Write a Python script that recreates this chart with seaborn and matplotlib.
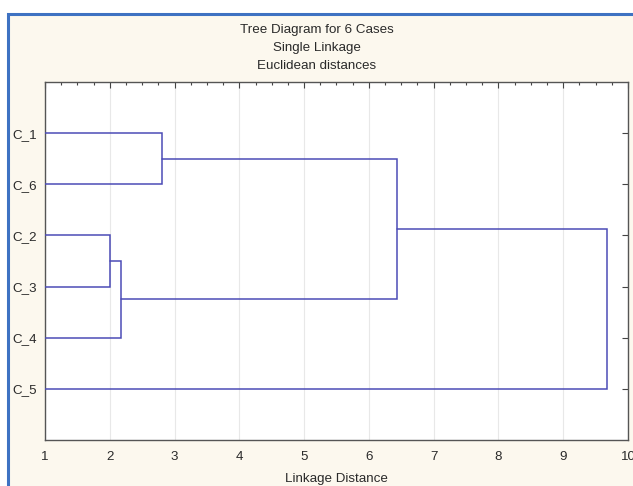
import matplotlib
matplotlib.use("Agg")
import matplotlib.pyplot as plt
import matplotlib.patches as patches
from matplotlib.ticker import MultipleLocator
import seaborn as sns

sns.set_style("white")
plt.rcParams["font.family"] = ["Liberation Sans", "DejaVu Sans"]

# leaf order top -> bottom
leaves = ["C_1", "C_6", "C_2", "C_3", "C_4", "C_5"]
# merges: (left member, right member, linkage distance)
merge_a = ["C_2", "C_3"]
merge_b = ["M1", "C_4"]
merge_c = ["C_1", "C_6"]
merge_d = ["M3", "M2"]
merge_e = ["M4", "C_5"]
merges = [merge_a, merge_b, merge_c, merge_d, merge_e]
distances = [2.0, 2.17, 2.8, 6.44, 9.68]

line_color = "#4B4BB6"
bg_color = "#FCF8EE"
fs = 9.6

fig = plt.figure(figsize=(6.33, 4.86), dpi=100)
fig.patch.set_facecolor("white")

# framed panel like the original window
frame = patches.Rectangle((8 / 633, -0.05), 1.1, 1 - 14 / 486 + 0.05,
                          transform=fig.transFigure, facecolor=bg_color,
                          edgecolor="#3E72C2", linewidth=2.2, zorder=-10)
fig.patches.append(frame)

ax = fig.add_axes([45 / 633, 1 - 440 / 486, 583 / 633, 358 / 486])
ax.set_zorder(5)
ax.set_facecolor("white")

# node positions: (distance, y)
pos = {name: (1.0, i + 1) for i, name in enumerate(leaves)}
for k, (m, d) in enumerate(zip(merges, distances)):
    x1, y1 = pos[m[0]]
    x2, y2 = pos[m[1]]
    ax.plot([x1, d, d, x2], [y1, y1, y2, y2], color=line_color, lw=1.1,
            solid_joinstyle="miter", zorder=3)
    pos["M" + str(k + 1)] = (d, (y1 + y2) / 2)

ax.set_xlim(1, 10)
ax.set_ylim(7, 0)
ax.xaxis.set_major_locator(MultipleLocator(1))
ax.xaxis.set_minor_locator(MultipleLocator(0.25))
ax.set_yticks(range(1, 7))
ax.set_yticklabels(leaves)
ax.grid(axis="x", color="#E8E8E8", lw=0.8, zorder=0)

for s in ax.spines.values():
    s.set_color("#555555")
    s.set_linewidth(1.0)

ax.tick_params(axis="both", which="both", direction="in", top=True, right=True,
               color="#444444", labelsize=fs, labelcolor="#2A2A2A")
ax.tick_params(which="major", length=4, width=0.8, pad=8)
ax.tick_params(which="minor", length=2.5, width=0.8)
ax.tick_params(axis="y", left=False, pad=6)

ax.set_xlabel("Linkage Distance", fontsize=fs, color="#2A2A2A", labelpad=7)
fig.text(0.5, 1 - 30 / 486, "Tree Diagram for 6 Cases", ha="center", va="center",
         fontsize=fs, color="#2A2A2A")
fig.text(0.5, 1 - 48 / 486, "Single Linkage", ha="center", va="center",
         fontsize=fs, color="#2A2A2A")
fig.text(0.5, 1 - 66 / 486, "Euclidean distances", ha="center", va="center",
         fontsize=fs, color="#2A2A2A")

fig.savefig("out.png", dpi=100)
